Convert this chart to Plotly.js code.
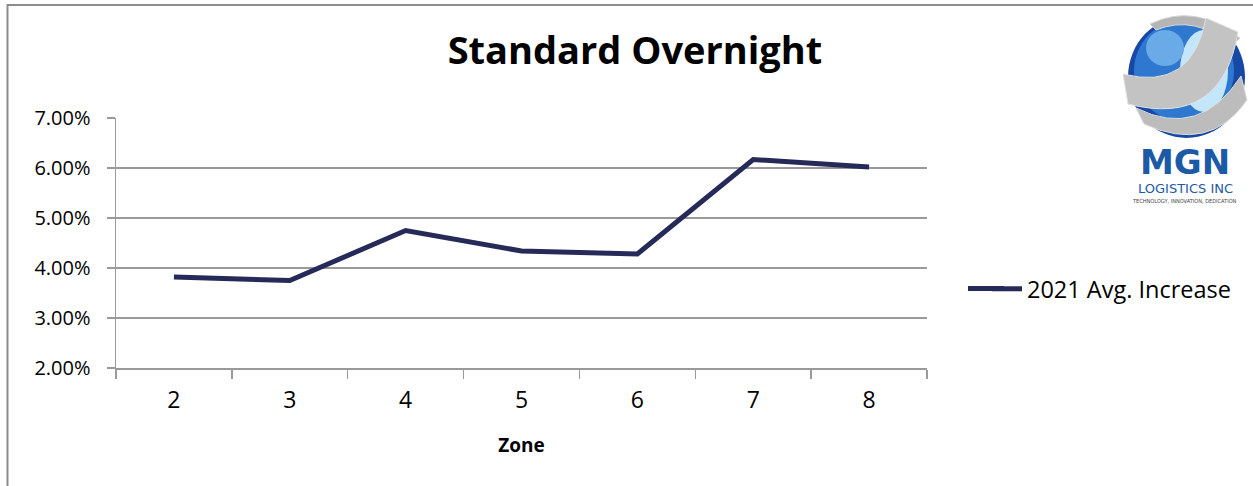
<!DOCTYPE html>
<html>
<head>
<meta charset="utf-8">
<script src="https://cdn.plot.ly/plotly-3.0.1.min.js"></script>
<style>
  html, body { margin: 0; padding: 0; background: #ffffff; }
  #chart { width: 1253px; height: 486px; }
</style>
</head>
<body>
<div id="chart"></div>
<script>
// ---- Data ----
const zones = ['2', '3', '4', '5', '6', '7', '8'];
const avgIncrease2021 = [0.0382, 0.0375, 0.0475, 0.0434, 0.0428, 0.0617, 0.0602];
const seriesName = '2021 Avg. Increase';
const chartTitle = 'Standard Overnight';
const xAxisTitle = 'Zone';
const yTickValues = [0.02, 0.03, 0.04, 0.05, 0.06, 0.07];

// ---- Layout geometry (pixels) ----
const W = 1253, H = 486;
const M = { l: 116, r: 326, t: 118, b: 118 };
const PW = W - M.l - M.r, PH = H - M.t - M.b;
const px = x => (x - M.l) / PW;
const py = y => (H - M.b - y) / PH;
const pt = (x, y) => px(x).toFixed(5) + ',' + py(y).toFixed(5);

const FONT = '"Open Sans", Lato, sans-serif';
const GRID = '#9a9a9a';
const LINE_COLOR = '#262a58';

const trace = {
  type: 'scatter',
  mode: 'lines',
  x: zones,
  y: avgIncrease2021,
  name: seriesName,
  line: { color: LINE_COLOR, width: 5 },
  hoverinfo: 'x+y'
};

const shapes = [
  // outer chart border (left + top)
  { type: 'path', xref: 'paper', yref: 'paper',
    path: 'M' + pt(7.5, 490) + ' L' + pt(7.5, 5) + ' L' + pt(1258, 5),
    line: { color: '#8c8c8c', width: 2 } },
  // legend key extension (reference key line is longer than Plotly's default)
  { type: 'line', xref: 'paper', yref: 'paper',
    x0: px(968), x1: px(1004), y0: py(288.5), y1: py(288.5),
    line: { color: LINE_COLOR, width: 5 } },
  // globe base
  { type: 'circle', xref: 'paper', yref: 'paper',
    x0: px(1128), x1: px(1245), y0: py(138), y1: py(16),
    fillcolor: '#1748a6', line: { width: 0 } },
  { type: 'circle', xref: 'paper', yref: 'paper',
    x0: px(1134), x1: px(1234), y0: py(122), y1: py(20),
    fillcolor: '#2f78d0', line: { width: 0 } },
  { type: 'circle', xref: 'paper', yref: 'paper',
    x0: px(1180), x1: px(1228), y0: py(112), y1: py(30),
    fillcolor: '#c4e6fa', line: { width: 0 } },
  { type: 'circle', xref: 'paper', yref: 'paper',
    x0: px(1146), x1: px(1184), y0: py(66), y1: py(30),
    fillcolor: '#6aaae6', line: { width: 0 } },
  // silver swirl bands
  { type: 'path', xref: 'paper', yref: 'paper',
    path: 'M' + pt(1150, 24) + ' Q' + pt(1195, 2) + ' ' + pt(1240, 38) +
          ' L' + pt(1232, 46) + ' Q' + pt(1195, 14) + ' ' + pt(1156, 30) + ' Z',
    fillcolor: '#b5b5b5', line: { color: '#d6d6d6', width: 1 } },
  { type: 'path', xref: 'paper', yref: 'paper',
    path: 'M' + pt(1123, 74) + ' Q' + pt(1192, 92) + ' ' + pt(1206, 18) +
          ' L' + pt(1238, 32) + ' Q' + pt(1222, 128) + ' ' + pt(1128, 104) + ' Z',
    fillcolor: '#c3c3c3', line: { color: '#e2e2e2', width: 1 } },
  { type: 'path', xref: 'paper', yref: 'paper',
    path: 'M' + pt(1136, 108) + ' Q' + pt(1200, 140) + ' ' + pt(1241, 76) +
          ' L' + pt(1247, 100) + ' Q' + pt(1210, 154) + ' ' + pt(1144, 124) + ' Z',
    fillcolor: '#bcbcbc', line: { color: '#dcdcdc', width: 1 } }
];

const annotations = [
  { xref: 'paper', yref: 'paper', x: px(1185), y: py(162), xanchor: 'center', yanchor: 'middle',
    text: '<b>MGN</b>', showarrow: false,
    font: { family: '"DejaVu Sans", sans-serif', size: 34, color: '#1b5aa6' } },
  { xref: 'paper', yref: 'paper', x: px(1185), y: py(188), xanchor: 'center', yanchor: 'middle',
    text: 'LOGISTICS INC', showarrow: false,
    font: { family: '"DejaVu Sans", sans-serif', size: 13, color: '#1b5aa6' } },
  { xref: 'paper', yref: 'paper', x: px(1184), y: py(201), xanchor: 'center', yanchor: 'middle',
    text: 'TECHNOLOGY, INNOVATION, DEDICATION', showarrow: false,
    font: { family: '"DejaVu Sans Condensed", "DejaVu Sans", sans-serif', size: 5.6, color: '#444444' } }
];

const layout = {
  width: W, height: H,
  margin: M,
  paper_bgcolor: '#ffffff',
  plot_bgcolor: '#ffffff',
  font: { family: FONT, color: '#000000' },
  title: {
    text: '<b>' + chartTitle + '</b>',
    font: { family: FONT, size: 38, color: '#000000' },
    xref: 'container', x: 635 / W, xanchor: 'center',
    yref: 'container', y: 1 - 51 / H, yanchor: 'middle'
  },
  xaxis: {
    type: 'category',
    range: [-0.5, zones.length - 0.5],
    tickson: 'boundaries',
    ticks: 'outside', ticklen: 9, tickwidth: 1.5, tickcolor: GRID,
    showline: true, linecolor: GRID, linewidth: 1.5,
    showgrid: false, zeroline: false,
    tickfont: { family: FONT, size: 23, color: '#000000' },
    ticklabelstandoff: 11,
    title: { text: '<b>' + xAxisTitle + '</b>', font: { family: FONT, size: 19, color: '#000000' }, standoff: 24 }
  },
  yaxis: {
    range: [0.02, 0.07],
    tickvals: yTickValues,
    tickformat: '.2%',
    ticks: 'outside', ticklen: 8, tickwidth: 1.5, tickcolor: GRID,
    showline: true, linecolor: GRID, linewidth: 1.5,
    showgrid: true, gridcolor: GRID, gridwidth: 1.5,
    zeroline: false,
    tickfont: { family: FONT, size: 20, color: '#000000' },
    ticklabelstandoff: 12
  },
  showlegend: true,
  legend: {
    x: px(987), y: py(289), xanchor: 'left', yanchor: 'middle',
    xref: 'paper', yref: 'paper',
    font: { family: FONT, size: 23.5, color: '#000000' },
    bgcolor: 'rgba(0,0,0,0)', borderwidth: 0,
    itemwidth: 30
  },
  shapes: shapes,
  annotations: annotations
};

Plotly.newPlot('chart', [trace], layout, { displayModeBar: false, staticPlot: true });
</script>
</body>
</html>
